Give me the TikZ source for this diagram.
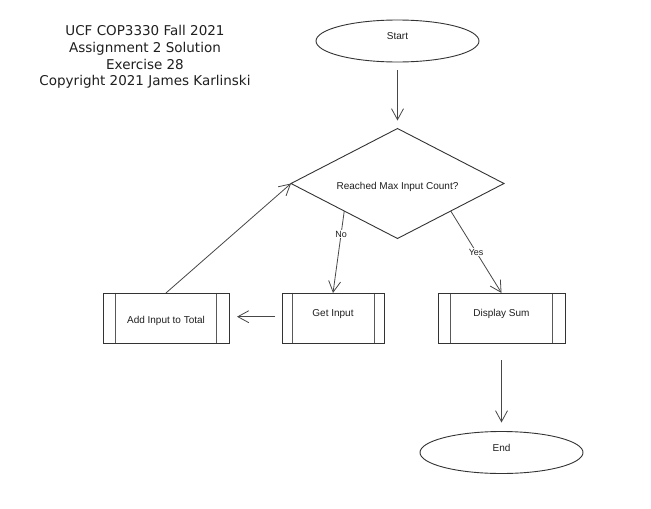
\documentclass[tikz,border=0pt]{standalone}
\usepackage{fontspec}
\setmainfont{Liberation Sans}
\newfontfamily\titlefont{DejaVu Sans}
\usetikzlibrary{shapes.geometric, arrows.meta}
\begin{document}
\begin{tikzpicture}[x=1pt, y=-1pt,
  every node/.style={font=\fontsize{10}{12}\selectfont, text=black!88},
  shapeline/.style={draw=black!80, line width=0.9pt},
  raised/.style={text height=7.2pt, text depth=10pt},
  lowered/.style={text height=11pt, text depth=0pt},
  terminal/.style={shapeline, ellipse, minimum width=163pt, minimum height=42pt, inner sep=0pt, outer sep=0pt, raised},
  decision/.style={shapeline, diamond, aspect=1.94, minimum width=213pt, minimum height=110pt, inner sep=0pt, outer sep=0pt},
  subproc/.style={shapeline, rectangle, inner sep=0pt, outer sep=0pt,
    path picture={
      \draw[draw=black!65, line width=0.9pt]
        ([xshift=#1]path picture bounding box.north west) -- ([xshift=#1]path picture bounding box.south west)
        ([xshift=-#1]path picture bounding box.north east) -- ([xshift=-#1]path picture bounding box.south east);
    }},
  flow/.style={draw=black!72, line width=0.8pt, -{Straight Barb[length=11pt, width=12pt]}},
  edgelabel/.style={fill=white, inner sep=1pt, font=\fontsize{9}{11}\selectfont}
]
\useasboundingbox (0,0) rectangle (651,509);
\fill[white] (0,0) rectangle (651,509);

\node (title) at (145,57) [font=\titlefont\fontsize{13.5}{16.8}\selectfont, align=center]
  {UCF COP3330 Fall 2021\\Assignment 2 Solution\\Exercise 28\\Copyright 2021 James Karlinski};

\node[terminal] (start) at (397.5,41) {Start};
\node[decision, lowered] (decision) at (397.5,183.5) {Reached Max Input Count?};
\node[subproc=10pt, minimum width=102pt, minimum height=50.5pt, raised] (getinput) at (333,318.2) {Get Input};
\node[subproc=12.5pt, minimum width=126pt, minimum height=50.5pt, lowered] (addinput) at (166,318.2) {Add Input to Total};
\node[subproc=12.5pt, minimum width=127pt, minimum height=50.5pt, raised] (display) at (501.5,318.2) {Display Sum};
\node[terminal] (end) at (501.5,452.5) {End};

\draw[flow, shorten <=8pt, shorten >=8pt] (start) -- (decision);
\draw[flow] (decision.south west) -- node[pos=0.28, edgelabel] (nolabel) {No} (getinput.north);
\draw[flow] (decision.south east) -- node[pos=0.5, edgelabel] (yeslabel) {Yes} (display.north);
\draw[flow, shorten <=7pt, shorten >=8pt] ([yshift=1.5pt]getinput.west) -- ([yshift=1.5pt]addinput.east);
\draw[flow] (addinput.north) -- (decision.west);
\draw[flow, shorten <=17pt, shorten >=9pt] (display.south) -- (end.north);
\end{tikzpicture}
\end{document}
